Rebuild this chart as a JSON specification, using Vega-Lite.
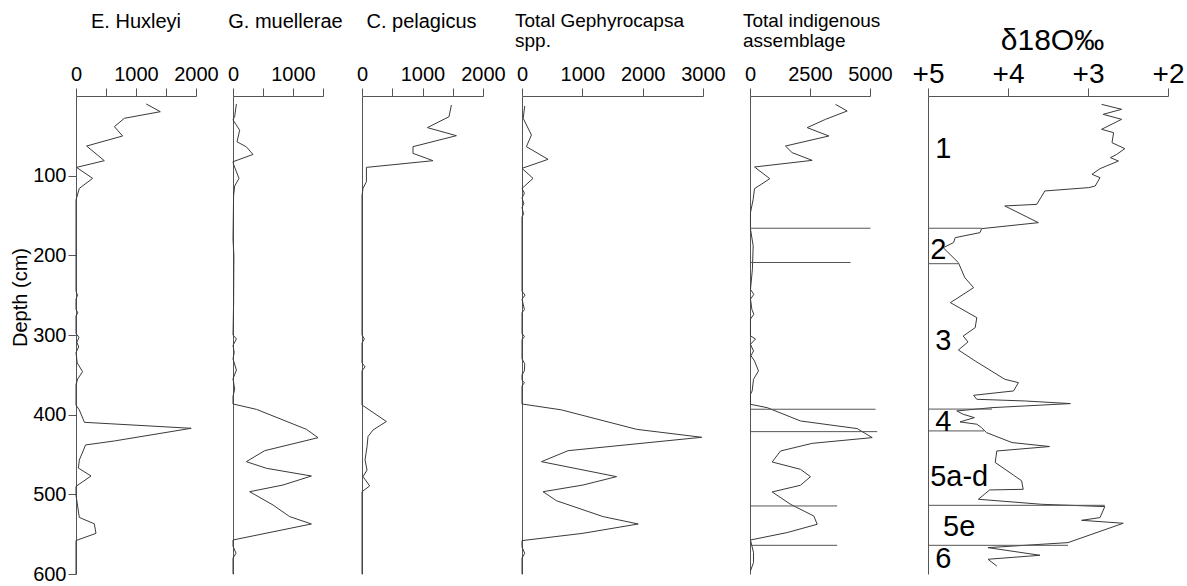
{
  "$schema": "https://vega.github.io/schema/vega-lite/v6.json",
  "autosize": "none",
  "padding": {"left": 76, "top": 96, "right": 1111, "bottom": 12},
  "bounds": "flush",
  "spacing": 0,
  "config": {
    "view": {"stroke": null},
    "font": "Liberation Sans",
    "axis": {"grid": false, "domainColor": "#555", "tickColor": "#555", "labelColor": "#000", "labelFont": "Liberation Sans", "labelFlush": false, "labelOverlap": false, "labelBound": false},
    "title": {"font": "Liberation Sans", "fontWeight": "normal", "color": "#000"}
  },
  "datasets": {
    "eh": [
      {"d": 10, "v": 1170}, {"d": 19.7, "v": 1405}, {"d": 28, "v": 805}, {"d": 38.5, "v": 640}, {"d": 50.2, "v": 777}, {"d": 62.8, "v": 177}, {"d": 81.2, "v": 472}, {"d": 89.6, "v": 10}, {"d": 103.4, "v": 277}, {"d": 116, "v": 55}, {"d": 130.5, "v": 0}, {"d": 160, "v": 0}, {"d": 245, "v": 0}, {"d": 250, "v": 25}, {"d": 255, "v": 0}, {"d": 268, "v": 0}, {"d": 272, "v": 30}, {"d": 276, "v": 0}, {"d": 298, "v": 0}, {"d": 303, "v": 50}, {"d": 309, "v": 15}, {"d": 315, "v": 45}, {"d": 322, "v": 0}, {"d": 335, "v": 20}, {"d": 346, "v": 110}, {"d": 355, "v": 30}, {"d": 362, "v": 0}, {"d": 388, "v": 0}, {"d": 394, "v": 55}, {"d": 409.6, "v": 140}, {"d": 417.1, "v": 1920}, {"d": 433, "v": 640}, {"d": 438, "v": 160}, {"d": 457, "v": 55}, {"d": 467, "v": 40}, {"d": 477, "v": 250}, {"d": 490, "v": 0}, {"d": 501, "v": 0}, {"d": 529, "v": 55}, {"d": 537, "v": 305}, {"d": 549, "v": 333}, {"d": 558, "v": 0}, {"d": 600, "v": 0}
    ],
    "gm": [
      {"d": 10, "v": 57}, {"d": 25.6, "v": 28}, {"d": 30, "v": 0}, {"d": 42.9, "v": 111}, {"d": 57.5, "v": 67}, {"d": 63.8, "v": 222}, {"d": 73.4, "v": 333}, {"d": 82.5, "v": 0}, {"d": 86, "v": 10}, {"d": 103.4, "v": 100}, {"d": 113, "v": 28}, {"d": 125, "v": 10}, {"d": 180, "v": 0}, {"d": 200, "v": 15}, {"d": 260, "v": 10}, {"d": 300, "v": 0}, {"d": 305, "v": 57}, {"d": 313, "v": 0}, {"d": 322, "v": 20}, {"d": 330, "v": 0}, {"d": 344, "v": 57}, {"d": 355, "v": 0}, {"d": 368, "v": 28}, {"d": 377, "v": 0}, {"d": 386.6, "v": 0}, {"d": 393.3, "v": 390}, {"d": 418.4, "v": 1223}, {"d": 428.9, "v": 1417}, {"d": 445.2, "v": 528}, {"d": 459, "v": 222}, {"d": 467.3, "v": 557}, {"d": 477, "v": 1307}, {"d": 488.3, "v": 833}, {"d": 496.7, "v": 278}, {"d": 513.4, "v": 667}, {"d": 528, "v": 945}, {"d": 537.2, "v": 1307}, {"d": 557.3, "v": 0}, {"d": 565, "v": 0}, {"d": 574, "v": 50}, {"d": 580, "v": 0}, {"d": 600, "v": 0}
    ],
    "cp": [
      {"d": 11.3, "v": 1478}, {"d": 26, "v": 1438}, {"d": 39.7, "v": 1081}, {"d": 49.8, "v": 1560}, {"d": 63.6, "v": 843}, {"d": 72, "v": 843}, {"d": 81.2, "v": 1174}, {"d": 89.6, "v": 73}, {"d": 107.6, "v": 73}, {"d": 116, "v": 17}, {"d": 125, "v": 0}, {"d": 300, "v": 0}, {"d": 305, "v": 40}, {"d": 310, "v": 0}, {"d": 335, "v": 0}, {"d": 340, "v": 50}, {"d": 345, "v": 0}, {"d": 387.8, "v": 0}, {"d": 408.6, "v": 403}, {"d": 419.2, "v": 182}, {"d": 427.6, "v": 99}, {"d": 440.2, "v": 83}, {"d": 456.9, "v": 50}, {"d": 469.4, "v": 83}, {"d": 477.8, "v": 17}, {"d": 489.5, "v": 127}, {"d": 496.7, "v": 0}, {"d": 600, "v": 0}
    ],
    "tg": [
      {"d": 12.6, "v": 45}, {"d": 28, "v": 20}, {"d": 49, "v": 156}, {"d": 63.6, "v": 73}, {"d": 79.5, "v": 432}, {"d": 90.8, "v": 0}, {"d": 103.4, "v": 183}, {"d": 116, "v": 0}, {"d": 122, "v": 40}, {"d": 128, "v": 0}, {"d": 135, "v": 30}, {"d": 140, "v": 0}, {"d": 148, "v": 25}, {"d": 152, "v": 0}, {"d": 245, "v": 0}, {"d": 250, "v": 50}, {"d": 255, "v": 0}, {"d": 268, "v": 40}, {"d": 272, "v": 0}, {"d": 298, "v": 0}, {"d": 302, "v": 40}, {"d": 306, "v": 0}, {"d": 330, "v": 0}, {"d": 336, "v": 45}, {"d": 345, "v": 40}, {"d": 350, "v": 0}, {"d": 356.5, "v": 0}, {"d": 360, "v": 40}, {"d": 364, "v": 0}, {"d": 386.6, "v": 0}, {"d": 394, "v": 654}, {"d": 418.4, "v": 1899}, {"d": 428.4, "v": 2978}, {"d": 445.2, "v": 764}, {"d": 459, "v": 322}, {"d": 477.8, "v": 1567}, {"d": 488.3, "v": 1013}, {"d": 496.7, "v": 349}, {"d": 508, "v": 571}, {"d": 528, "v": 1345}, {"d": 537.2, "v": 1926}, {"d": 548.9, "v": 1013}, {"d": 558.1, "v": 0}, {"d": 566, "v": 0}, {"d": 574, "v": 45}, {"d": 580, "v": 0}, {"d": 600, "v": 0}
    ],
    "ti": [
      {"d": 10.5, "v": 3563}, {"d": 18.8, "v": 4049}, {"d": 29.3, "v": 3146}, {"d": 39.7, "v": 2383}, {"d": 50.2, "v": 3285}, {"d": 62.8, "v": 1479}, {"d": 71.1, "v": 1757}, {"d": 80.8, "v": 2590}, {"d": 89.1, "v": 188}, {"d": 103.8, "v": 826}, {"d": 116.3, "v": 188}, {"d": 129.7, "v": 132}, {"d": 146.4, "v": 20}, {"d": 167, "v": 20}, {"d": 188, "v": 132}, {"d": 217.6, "v": 100}, {"d": 242.7, "v": 20}, {"d": 249, "v": 160}, {"d": 255, "v": 20}, {"d": 268, "v": 80}, {"d": 274, "v": 160}, {"d": 280, "v": 20}, {"d": 301, "v": 20}, {"d": 305, "v": 229}, {"d": 311.7, "v": 20}, {"d": 320, "v": 146}, {"d": 326, "v": 40}, {"d": 332.6, "v": 188}, {"d": 345, "v": 354}, {"d": 355.6, "v": 146}, {"d": 370.2, "v": 90}, {"d": 374.4, "v": 20}, {"d": 387, "v": 20}, {"d": 391.2, "v": 716}, {"d": 407.9, "v": 2104}, {"d": 417.5, "v": 4467}, {"d": 428.8, "v": 5092}, {"d": 436, "v": 2592}, {"d": 445.6, "v": 1271}, {"d": 459.4, "v": 925}, {"d": 468.6, "v": 2104}, {"d": 477.8, "v": 2521}, {"d": 488.6, "v": 2104}, {"d": 497, "v": 925}, {"d": 512.5, "v": 1688}, {"d": 527.2, "v": 2659}, {"d": 537.6, "v": 2800}, {"d": 548, "v": 1550}, {"d": 557.3, "v": 20}, {"d": 573, "v": 146}, {"d": 585.7, "v": 146}, {"d": 596, "v": 20}
    ],
    "tiRules": [
      {"d": 166, "v": 5020}, {"d": 209, "v": 4190}, {"d": 393.2, "v": 5230}, {"d": 421.3, "v": 5300}, {"d": 514.6, "v": 3630}, {"d": 564, "v": 3630}
    ],
    "do": [
      {"d": 10.5, "v": 2.83}, {"d": 16.7, "v": 2.58}, {"d": 23, "v": 2.81}, {"d": 29.3, "v": 2.58}, {"d": 41.8, "v": 2.83}, {"d": 46, "v": 2.68}, {"d": 58.6, "v": 2.7}, {"d": 66.1, "v": 2.54}, {"d": 73.2, "v": 2.64}, {"d": 77.4, "v": 2.72}, {"d": 81.6, "v": 2.62}, {"d": 87.9, "v": 2.77}, {"d": 91.2, "v": 2.85}, {"d": 98.3, "v": 2.95}, {"d": 102.5, "v": 2.85}, {"d": 113, "v": 2.91}, {"d": 115, "v": 2.99}, {"d": 119.2, "v": 3.54}, {"d": 136, "v": 3.64}, {"d": 138, "v": 4.04}, {"d": 159, "v": 3.62}, {"d": 166.5, "v": 4.33}, {"d": 171.5, "v": 4.35}, {"d": 177.8, "v": 4.66}, {"d": 184, "v": 4.68}, {"d": 190.4, "v": 4.81}, {"d": 209.2, "v": 4.62}, {"d": 228, "v": 4.54}, {"d": 240.6, "v": 4.43}, {"d": 259.4, "v": 4.72}, {"d": 278.2, "v": 4.39}, {"d": 290.8, "v": 4.41}, {"d": 301.3, "v": 4.56}, {"d": 308.7, "v": 4.5}, {"d": 318.8, "v": 4.62}, {"d": 332.6, "v": 4.41}, {"d": 355.6, "v": 4.04}, {"d": 359.8, "v": 3.87}, {"d": 370.2, "v": 3.93}, {"d": 375.7, "v": 4.43}, {"d": 380.7, "v": 4.39}, {"d": 382.8, "v": 3.79}, {"d": 386.1, "v": 3.22}, {"d": 391.2, "v": 4.2}, {"d": 395.3, "v": 4.64}, {"d": 399.5, "v": 4.56}, {"d": 403.7, "v": 4.42}, {"d": 409.1, "v": 4.6}, {"d": 412, "v": 4.39}, {"d": 416.3, "v": 4.33}, {"d": 422.5, "v": 4.27}, {"d": 435, "v": 3.95}, {"d": 440, "v": 3.48}, {"d": 445.6, "v": 4.14}, {"d": 460, "v": 4.16}, {"d": 476, "v": 3.93}, {"d": 483, "v": 3.83}, {"d": 493.7, "v": 3.81}, {"d": 494.5, "v": 4.23}, {"d": 506.2, "v": 4.37}, {"d": 512.5, "v": 3.58}, {"d": 515.4, "v": 2.79}, {"d": 529.2, "v": 2.85}, {"d": 532.6, "v": 3.08}, {"d": 536.3, "v": 2.56}, {"d": 560.6, "v": 3.25}, {"d": 566.9, "v": 4.25}, {"d": 576.5, "v": 3.6}, {"d": 581.5, "v": 4.25}, {"d": 590, "v": 4.14}
    ],
    "doRules": [
      {"d": 166, "v": 4.33}, {"d": 210.5, "v": 4.62}, {"d": 393, "v": 4.2}, {"d": 420.4, "v": 4.3}, {"d": 513.8, "v": 2.79}, {"d": 564, "v": 3.25}
    ],
    "zones": [
      {"d": 66, "v": 4.81, "t": "1"}, {"d": 193, "v": 4.87, "t": "2"}, {"d": 307.5, "v": 4.81, "t": "3"}, {"d": 409, "v": 4.81, "t": "4"}, {"d": 478, "v": 4.61, "t": "5a-d"}, {"d": 541.6, "v": 4.61, "t": "5e"}, {"d": 581, "v": 4.81, "t": "6"}
    ]
  },
  "hconcat": [
    {
      "width": 157, "height": 478,
      "data": {"name": "eh"},
      "title": {"text": "E. Huxleyi", "anchor": "middle", "frame": "group", "dx": -18.5, "offset": 12, "fontSize": 20, "baseline": "bottom"},
      "mark": {"type": "line", "color": "#3a3a3a", "strokeWidth": 1},
      "encoding": {
        "y": {"field": "d", "type": "quantitative", "scale": {"domain": [0, 600], "reverse": true, "nice": false, "zero": false},
              "axis": {"values": [100, 200, 300, 400, 500, 600], "tickSize": 8, "labelPadding": 2, "labelFontSize": 20, "title": "Depth (cm)", "titleFontSize": 20, "titleFontWeight": "normal", "titleX": -56, "titleY": 201, "titleBaseline": "middle", "titleAngle": -90}},
        "x": {"field": "v", "type": "quantitative", "scale": {"domain": [0, 2000], "range": [0, 120], "nice": false},
              "axis": {"orient": "top", "title": null, "values": [0, 500, 1000, 1500, 2000], "labelExpr": "datum.value % 1000 === 0 ? '' + datum.value : ''", "tickSize": 8, "labelPadding": 4, "labelFontSize": 20}},
        "order": {"field": "d", "type": "quantitative"}
      }
    },
    {
      "width": 129, "height": 478,
      "data": {"name": "gm"},
      "title": {"text": "G. muellerae", "anchor": "middle", "frame": "group", "dx": -12, "offset": 12, "fontSize": 20, "baseline": "bottom"},
      "mark": {"type": "line", "color": "#3a3a3a", "strokeWidth": 1},
      "encoding": {
        "y": {"field": "d", "type": "quantitative", "scale": {"domain": [0, 600], "reverse": true, "nice": false, "zero": false},
              "axis": {"labels": false, "ticks": false, "title": null}},
        "x": {"field": "v", "type": "quantitative", "scale": {"domain": [0, 1500], "range": [0, 90], "nice": false},
              "axis": {"orient": "top", "title": null, "values": [0, 500, 1000, 1500], "labelExpr": "datum.value % 1000 === 0 ? '' + datum.value : ''", "tickSize": 8, "labelPadding": 4, "labelFontSize": 20}},
        "order": {"field": "d", "type": "quantitative"}
      }
    },
    {
      "width": 160, "height": 478,
      "data": {"name": "cp"},
      "title": {"text": "C. pelagicus", "anchor": "middle", "frame": "group", "dx": -20.5, "offset": 12, "fontSize": 20, "baseline": "bottom"},
      "mark": {"type": "line", "color": "#3a3a3a", "strokeWidth": 1},
      "encoding": {
        "y": {"field": "d", "type": "quantitative", "scale": {"domain": [0, 600], "reverse": true, "nice": false, "zero": false},
              "axis": {"labels": false, "ticks": false, "title": null}},
        "x": {"field": "v", "type": "quantitative", "scale": {"domain": [0, 2000], "range": [0, 121], "nice": false},
              "axis": {"orient": "top", "title": null, "values": [0, 500, 1000, 1500, 2000], "labelExpr": "datum.value % 1000 === 0 ? '' + datum.value : ''", "tickSize": 8, "labelPadding": 4, "labelFontSize": 20}},
        "order": {"field": "d", "type": "quantitative"}
      }
    },
    {
      "width": 228, "height": 478,
      "data": {"name": "tg"},
      "title": {"text": ["Total Gephyrocapsa", "spp."], "anchor": "start", "frame": "group", "dx": -7, "offset": -6, "fontSize": 19, "lineHeight": 20, "baseline": "bottom"},
      "mark": {"type": "line", "color": "#3a3a3a", "strokeWidth": 1},
      "encoding": {
        "y": {"field": "d", "type": "quantitative", "scale": {"domain": [0, 600], "reverse": true, "nice": false, "zero": false},
              "axis": {"labels": false, "ticks": false, "title": null}},
        "x": {"field": "v", "type": "quantitative", "scale": {"domain": [0, 3000], "range": [0, 181], "nice": false},
              "axis": {"orient": "top", "title": null, "values": [0, 1000, 2000, 3000], "format": "d", "tickSize": 8, "labelPadding": 4, "labelFontSize": 20}},
        "order": {"field": "d", "type": "quantitative"}
      }
    },
    {
      "width": 178, "height": 478,
      "title": {"text": ["Total indigenous", "assemblage"], "anchor": "start", "frame": "group", "dx": -7, "offset": -6, "fontSize": 19, "lineHeight": 20, "baseline": "bottom"},
      "encoding": {
        "y": {"field": "d", "type": "quantitative", "scale": {"domain": [0, 600], "reverse": true, "nice": false, "zero": false},
              "axis": {"labels": false, "ticks": false, "title": null}},
        "x": {"field": "v", "type": "quantitative", "scale": {"domain": [0, 5000], "range": [0, 120], "nice": false},
              "axis": {"orient": "top", "title": null, "values": [0, 2500, 5000], "format": "d", "tickSize": 8, "labelPadding": 4, "labelFontSize": 20}}
      },
      "layer": [
        {"data": {"name": "ti"}, "mark": {"type": "line", "color": "#3a3a3a", "strokeWidth": 1}, "encoding": {"order": {"field": "d", "type": "quantitative"}}},
        {"data": {"name": "tiRules"}, "mark": {"type": "rule", "color": "#555", "strokeWidth": 1}, "encoding": {"x2": {"datum": 0}}}
      ]
    },
    {
      "width": 240, "height": 478,
      "title": {"text": "δ18O‰", "anchor": "middle", "frame": "group", "dx": 4.5, "offset": -26, "fontSize": 30, "baseline": "bottom"},
      "encoding": {
        "y": {"field": "d", "type": "quantitative", "scale": {"domain": [0, 600], "reverse": true, "nice": false, "zero": false},
              "axis": {"labels": false, "ticks": false, "title": null}},
        "x": {"field": "v", "type": "quantitative", "scale": {"domain": [5, 2], "range": [0, 240], "nice": false, "zero": false},
              "axis": {"orient": "top", "title": null, "values": [5, 4, 3, 2], "labelExpr": "'+' + datum.value", "tickSize": 8, "labelPadding": 0, "labelFontSize": 28}}
      },
      "layer": [
        {"data": {"name": "do"}, "mark": {"type": "line", "color": "#3a3a3a", "strokeWidth": 1}, "encoding": {"order": {"field": "d", "type": "quantitative"}}},
        {"data": {"name": "doRules"}, "mark": {"type": "rule", "color": "#555", "strokeWidth": 1}, "encoding": {"x2": {"datum": 5}}},
        {"data": {"name": "zones"}, "mark": {"type": "text", "fontSize": 29, "align": "center", "baseline": "middle", "color": "#000"}, "encoding": {"text": {"field": "t"}}}
      ]
    }
  ]
}
